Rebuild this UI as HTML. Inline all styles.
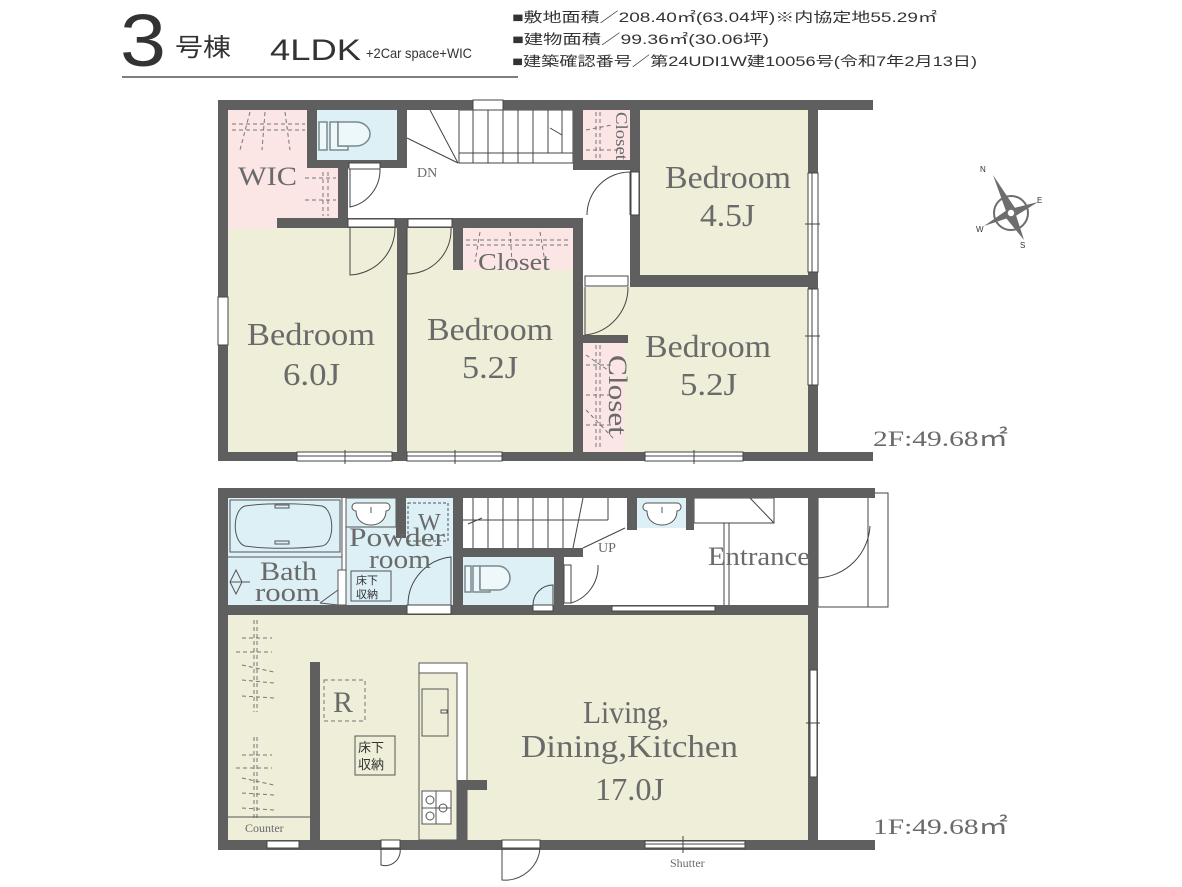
<!DOCTYPE html>
<html><head><meta charset="utf-8"><style>
html,body{margin:0;padding:0;background:#fff;}
svg{display:block;}
.s{font-family:"Liberation Serif",serif;fill:#6a6a6a;}
.j{font-family:"Liberation Sans","Noto Sans CJK JP",sans-serif;fill:#333;}
</style></head><body>
<svg width="1182" height="887" viewBox="0 0 1182 887" xmlns="http://www.w3.org/2000/svg">
<!-- Header -->
<text x="120" y="66" class="j" font-size="74" fill="#333" textLength="46" lengthAdjust="spacingAndGlyphs">3</text>
<text x="175" y="56" class="j" font-size="25" textLength="56" lengthAdjust="spacingAndGlyphs">号棟</text>
<text x="270" y="60" class="j" font-size="30" textLength="91" lengthAdjust="spacingAndGlyphs">4LDK</text>
<text x="366" y="58" class="j" font-size="14" textLength="106" lengthAdjust="spacingAndGlyphs">+2Car space+WIC</text>
<line x1="122" y1="77" x2="518" y2="77" stroke="#555" stroke-width="1.5"/>
<text x="512" y="22" class="j" font-size="13.5" textLength="425" lengthAdjust="spacingAndGlyphs">■敷地面積／208.40㎡(63.04坪)※内協定地55.29㎡</text>
<text x="512" y="44" class="j" font-size="13.5" textLength="257" lengthAdjust="spacingAndGlyphs">■建物面積／99.36㎡(30.06坪)</text>
<text x="512" y="66" class="j" font-size="13.5" textLength="465" lengthAdjust="spacingAndGlyphs">■建築確認番号／第24UDI1W建10056号(令和7年2月13日)</text>

<!-- ===== 2F ===== -->
<rect x="228" y="228" width="169" height="224" fill="#efeed8"/>
<rect x="407" y="228" width="166" height="224" fill="#efeed8"/>
<rect x="583" y="287" width="225" height="165" fill="#efeed8"/>
<rect x="640" y="110" width="168" height="165" fill="#efeed8"/>
<rect x="583" y="287" width="47" height="48" fill="#efeed8"/>
<rect x="228" y="110" width="79" height="118" fill="#fbe5e5"/>
<rect x="307" y="168" width="31" height="50" fill="#fbe5e5"/>
<rect x="463" y="228" width="110" height="42" fill="#fbe5e5"/>
<rect x="583" y="110" width="50" height="50" fill="#fbe5e5"/>
<rect x="583" y="343" width="42" height="109" fill="#fbe5e5"/>
<rect x="317" y="110" width="80" height="50" fill="#dcf0f6"/>
<g stroke="#777" stroke-width="1" stroke-dasharray="4,3" fill="none">
<line x1="232" y1="124" x2="305" y2="124"/><line x1="232" y1="130" x2="305" y2="130"/>
<line x1="250" y1="112" x2="240" y2="150"/><line x1="265" y1="112" x2="262" y2="150"/><line x1="285" y1="112" x2="290" y2="150"/>
<line x1="305" y1="178" x2="336" y2="178"/><line x1="305" y1="200" x2="336" y2="200"/><line x1="323" y1="172" x2="323" y2="216"/><line x1="328" y1="172" x2="328" y2="216"/>
<line x1="466" y1="240" x2="570" y2="240"/><line x1="466" y1="245" x2="570" y2="245"/>
<line x1="480" y1="232" x2="475" y2="262"/><line x1="510" y1="232" x2="512" y2="262"/><line x1="540" y1="232" x2="545" y2="262"/>
<line x1="596" y1="112" x2="596" y2="158"/><line x1="600" y1="112" x2="600" y2="158"/><line x1="586" y1="130" x2="612" y2="125"/><line x1="586" y1="150" x2="620" y2="150"/>
<line x1="596" y1="345" x2="596" y2="450"/><line x1="600" y1="345" x2="600" y2="450"/>
<line x1="586" y1="365" x2="612" y2="365"/><line x1="586" y1="395" x2="612" y2="395"/><line x1="586" y1="425" x2="612" y2="425"/><line x1="586" y1="355" x2="615" y2="375"/><line x1="586" y1="410" x2="615" y2="440"/>
</g>
<g stroke="#444" stroke-width="1" fill="none">
<rect x="459" y="110" width="114" height="43"/>
<rect x="459" y="153" width="114" height="10" fill="#fff"/>
<line x1="473" y1="110" x2="473" y2="163"/><line x1="488" y1="110" x2="488" y2="163"/><line x1="503" y1="110" x2="503" y2="163"/><line x1="518" y1="110" x2="518" y2="163"/><line x1="533" y1="110" x2="533" y2="163"/><line x1="548" y1="110" x2="548" y2="153"/><line x1="562" y1="110" x2="562" y2="153"/>
<line x1="407" y1="138" x2="458" y2="163"/><line x1="430" y1="110" x2="458" y2="163"/>
<line x1="550" y1="128" x2="562" y2="135"/>
</g>
<text x="417" y="177" class="s" font-size="14" fill="#333">DN</text>
<g stroke="#7a8a90" stroke-width="1.5" fill="#eef7fa">
<rect x="319" y="122" width="8" height="28"/>
<path d="M330 122 h8 v24 h10 v4 h-18 z"/>
<path d="M338 122 h18 a14 12 0 0 1 0 24 h-18 z"/>
</g>
<g fill="#5f5f5f">
<rect x="218" y="100" width="655" height="10"/>
<rect x="218" y="100" width="10" height="361"/>
<rect x="218" y="452" width="655" height="9"/>
<rect x="808" y="100" width="10" height="352"/>
<rect x="307" y="110" width="10" height="58"/>
<rect x="307" y="160" width="100" height="8"/>
<rect x="397" y="110" width="10" height="58"/>
<rect x="338" y="168" width="10" height="60"/>
<rect x="277" y="218" width="306" height="10"/>
<rect x="397" y="218" width="10" height="234"/>
<rect x="453" y="228" width="10" height="42"/>
<rect x="573" y="110" width="10" height="58"/>
<rect x="573" y="160" width="67" height="10"/>
<rect x="573" y="218" width="10" height="234"/>
<rect x="630" y="110" width="10" height="177"/>
<rect x="630" y="275" width="188" height="12"/>
<rect x="583" y="335" width="45" height="8"/>
</g>
<g fill="#fff" stroke="#444" stroke-width="1">
<rect x="348" y="219" width="47" height="8"/>
<rect x="408" y="219" width="44" height="8"/>
<rect x="631" y="172" width="8" height="43"/>
<rect x="585" y="276" width="43" height="10"/>
<rect x="473" y="100" width="30" height="10"/>
<rect x="218" y="297" width="10" height="48"/>
<rect x="297" y="452" width="95" height="9"/>
<rect x="407" y="452" width="95" height="9"/>
<rect x="645" y="452" width="98" height="9"/>
<rect x="808" y="173" width="10" height="99"/>
<rect x="808" y="289" width="10" height="96"/>
</g>
<rect x="349" y="163" width="31" height="6" fill="#fff" stroke="#444"/>
<g stroke="#444" stroke-width="1" fill="none">
<path d="M350 169 v38 a38 38 0 0 0 30 -38"/>
<path d="M350 228 v47 a47 47 0 0 0 45 -47"/>
<path d="M407 228 v46 a44 44 0 0 0 44 -46"/>
<path d="M630 215 v-43 a43 43 0 0 0 -43 43"/>
<path d="M585 287 v48 a48 48 0 0 0 43 -48"/>
<line x1="812" y1="173" x2="812" y2="272"/><line x1="812" y1="289" x2="812" y2="385"/>
<line x1="297" y1="456" x2="392" y2="456"/><line x1="407" y1="456" x2="502" y2="456"/><line x1="645" y1="456" x2="743" y2="456"/>
<line x1="345" y1="450" x2="345" y2="464"/><line x1="455" y1="450" x2="455" y2="464"/><line x1="694" y1="450" x2="694" y2="464"/>
<line x1="805" y1="224" x2="820" y2="224"/><line x1="805" y1="336" x2="820" y2="336"/>
</g>
<text x="238" y="185" class="s" font-size="26" textLength="59" lengthAdjust="spacingAndGlyphs">WIC</text>
<text x="665" y="188" class="s" font-size="32" textLength="126" lengthAdjust="spacingAndGlyphs">Bedroom</text>
<text x="700" y="226" class="s" font-size="32" textLength="55" lengthAdjust="spacingAndGlyphs">4.5J</text>
<text x="247" y="345" class="s" font-size="32" textLength="128" lengthAdjust="spacingAndGlyphs">Bedroom</text>
<text x="283" y="385" class="s" font-size="32" textLength="57" lengthAdjust="spacingAndGlyphs">6.0J</text>
<text x="427" y="340" class="s" font-size="32" textLength="126" lengthAdjust="spacingAndGlyphs">Bedroom</text>
<text x="462" y="378" class="s" font-size="32" textLength="56" lengthAdjust="spacingAndGlyphs">5.2J</text>
<text x="478" y="270" class="s" font-size="24" textLength="72" lengthAdjust="spacingAndGlyphs">Closet</text>
<text x="645" y="357" class="s" font-size="32" textLength="126" lengthAdjust="spacingAndGlyphs">Bedroom</text>
<text x="680" y="395" class="s" font-size="32" textLength="57" lengthAdjust="spacingAndGlyphs">5.2J</text>
<text transform="translate(616,112) rotate(90)" class="s" font-size="17" textLength="48" lengthAdjust="spacingAndGlyphs">Closet</text>
<text transform="translate(609,355) rotate(90)" class="s" font-size="26" textLength="80" lengthAdjust="spacingAndGlyphs">Closet</text>
<text x="873" y="446" class="s" font-size="22" fill="#333" textLength="135" lengthAdjust="spacingAndGlyphs">2F:49.68㎡</text>

<g fill="#6d6d6d" stroke="#6d6d6d">
<circle cx="1011" cy="213" r="17" fill="none" stroke-width="2"/>
<polygon points="993,175 1015,208 1007,214" stroke="none"/>
<polygon points="1024,240 1006,218 1015,212" stroke="none"/>
<polygon points="1038,202 1014,217 1010,209" stroke="none"/>
<polygon points="984,226 1007,210 1011,217" stroke="none"/>
<circle cx="1011" cy="213" r="4" fill="#fff" stroke-width="1.5"/>
</g>
<g class="j" font-size="8" fill="#888">
<text x="980" y="172">N</text><text x="1037" y="203">E</text><text x="976" y="232">W</text><text x="1020" y="248">S</text>
</g>

<!-- ===== 1F ===== -->
<rect x="228" y="615" width="580" height="225" fill="#efeed8"/>
<rect x="228" y="498" width="114" height="107" fill="#dcf0f6"/>
<rect x="346" y="498" width="107" height="107" fill="#dcf0f6"/>
<rect x="463" y="557" width="91" height="48" fill="#dcf0f6"/>
<rect x="637" y="498" width="49" height="30" fill="#dcf0f6"/>
<g stroke="#555" stroke-width="1" fill="none">
<rect x="230" y="500" width="110" height="52"/>
<path d="M245 506 C265 503 300 503 322 506 C335 510 335 544 322 546 C300 549 265 549 245 546 C232 542 232 510 245 506 Z"/>
<rect x="275" y="505" width="14" height="3"/><rect x="275" y="541" width="14" height="3"/>
<line x1="228" y1="557" x2="342" y2="557"/>
<path d="M236 570 l6 12 l-6 12 l-6 -12 z"/><line x1="230" y1="582" x2="250" y2="582"/>
<line x1="320" y1="603" x2="338" y2="590"/><line x1="320" y1="603" x2="338" y2="605"/>
<line x1="342" y1="498" x2="342" y2="605"/><line x1="346" y1="498" x2="346" y2="605"/>
</g>
<rect x="338" y="570" width="8" height="35" fill="#fff" stroke="#555"/>
<g stroke="#555" stroke-width="1" fill="#fff">
<rect x="346" y="498" width="50" height="29" fill="#dcf0f6"/>
<path d="M356 503 h30 a4 4 0 0 1 0 8 c0 10 -8 14 -15 14 c-7 0 -15 -4 -15 -14 a4 4 0 0 1 0 -8z"/>
<path d="M647 503 h30 a4 4 0 0 1 0 8 c0 10 -8 14 -15 14 c-7 0 -15 -4 -15 -14 a4 4 0 0 1 0 -8z"/>
<line x1="371" y1="507" x2="371" y2="513"/><line x1="662" y1="507" x2="662" y2="513"/>
</g>
<rect x="408" y="503" width="40" height="38" fill="none" stroke="#555" stroke-dasharray="3,2"/>
<text x="418" y="530" class="s" font-size="24">W</text>
<rect x="351" y="571" width="40" height="30" fill="#dcf0f6" stroke="#555"/>
<text x="356" y="584" class="j" font-size="11" fill="#444">床下</text>
<text x="356" y="598" class="j" font-size="11" fill="#444">収納</text>
<g stroke="#7a8a90" stroke-width="1.5" fill="#eef7fa">
<rect x="465" y="566" width="6" height="26"/>
<path d="M473 566 h7 v22 h10 v4 h-17 z"/>
<path d="M480 566 h18 a12 12 0 0 1 0 24 h-18 z"/>
</g>
<g stroke="#444" stroke-width="1" fill="none">
<line x1="473" y1="498" x2="473" y2="548"/><line x1="488" y1="498" x2="488" y2="548"/><line x1="503" y1="498" x2="503" y2="548"/><line x1="518" y1="498" x2="518" y2="548"/><line x1="533" y1="498" x2="533" y2="548"/><line x1="548" y1="498" x2="548" y2="548"/><line x1="563" y1="498" x2="563" y2="548"/>
<line x1="463" y1="520" x2="608" y2="520"/><line x1="608" y1="498" x2="608" y2="520"/>
<line x1="583" y1="498" x2="573" y2="548"/><line x1="583" y1="548" x2="625" y2="528"/>
<line x1="468" y1="524" x2="482" y2="518"/>
<rect x="694" y="498" width="80" height="25"/>
<line x1="750" y1="498" x2="774" y2="523"/>
<line x1="724" y1="523" x2="724" y2="605"/><line x1="729" y1="523" x2="729" y2="605"/>
<rect x="818" y="493" width="70" height="114"/>
<line x1="868" y1="498" x2="868" y2="607"/>
<path d="M818 578 a55 55 0 0 0 52 -52"/><rect x="810" y="523" width="8" height="55" fill="#fff"/>
</g>
<text x="598" y="552" class="s" font-size="14" fill="#333">UP</text>
<g stroke="#777" stroke-width="1" stroke-dasharray="4,3" fill="none">
<line x1="254" y1="620" x2="254" y2="712"/><line x1="257" y1="620" x2="257" y2="712"/>
<line x1="242" y1="638" x2="272" y2="638"/><line x1="236" y1="652" x2="272" y2="652"/><line x1="242" y1="665" x2="274" y2="672"/><line x1="242" y1="680" x2="274" y2="683"/><line x1="242" y1="696" x2="274" y2="698"/>
<line x1="254" y1="737" x2="254" y2="820"/><line x1="257" y1="737" x2="257" y2="820"/>
<line x1="242" y1="755" x2="272" y2="755"/><line x1="236" y1="768" x2="272" y2="768"/><line x1="242" y1="778" x2="274" y2="785"/><line x1="242" y1="793" x2="274" y2="795"/><line x1="242" y1="808" x2="274" y2="810"/>
<rect x="324" y="680" width="41" height="41"/>
</g>
<line x1="228" y1="817" x2="310" y2="817" stroke="#555"/>
<text x="245" y="832" class="s" font-size="12" fill="#444">Counter</text>
<text x="333" y="712" class="s" font-size="30">R</text>
<rect x="355" y="736" width="40" height="39" fill="none" stroke="#555"/>
<text x="358" y="752" class="j" font-size="13" fill="#555">床下</text>
<text x="358" y="769" class="j" font-size="13" fill="#555">収納</text>
<g stroke="#555" stroke-width="1">
<rect x="419" y="663" width="48" height="177" fill="#fff"/>
<rect x="419" y="673" width="38" height="167" fill="#efeed8"/>
<rect x="422" y="689" width="26" height="47" fill="#efeed8"/>
<rect x="441" y="710" width="6" height="3" fill="#efeed8"/>
<rect x="422" y="791" width="29" height="33" fill="#fff"/>
</g>
<g stroke="#555" fill="none"><circle cx="430" cy="800" r="4"/><circle cx="443" cy="808" r="4"/><circle cx="430" cy="816" r="4"/><line x1="422" y1="808" x2="451" y2="808"/><line x1="436" y1="791" x2="436" y2="824"/></g>
<g fill="#5f5f5f">
<rect x="218" y="488" width="657" height="10"/>
<rect x="218" y="488" width="10" height="362"/>
<rect x="218" y="840" width="657" height="10"/>
<rect x="808" y="498" width="10" height="342"/>
<rect x="228" y="605" width="580" height="10"/>
<rect x="396" y="498" width="10" height="40"/>
<rect x="453" y="498" width="10" height="117"/>
<rect x="463" y="548" width="120" height="9"/>
<rect x="554" y="557" width="10" height="48"/>
<rect x="627" y="498" width="10" height="32"/>
<rect x="686" y="498" width="8" height="32"/>
<rect x="310" y="662" width="10" height="178"/>
<rect x="457" y="780" width="10" height="60"/>
<rect x="467" y="780" width="20" height="10"/>
</g>
<g fill="#fff" stroke="#444" stroke-width="1">
<rect x="407" y="605" width="44" height="9"/>
<rect x="533" y="605" width="20" height="6"/>
<rect x="564" y="565" width="7" height="38"/>
<rect x="612" y="606" width="103" height="5"/>
<rect x="267" y="841" width="32" height="7"/>
<rect x="381" y="840" width="19" height="8"/>
<rect x="502" y="840" width="38" height="8"/>
<rect x="645" y="841" width="100" height="7"/>
<rect x="810" y="670" width="7" height="107"/>
</g>
<g stroke="#444" stroke-width="1" fill="none">
<path d="M451 605 v-48 a48 48 0 0 0 -43 48"/>
<path d="M553 605 v-20 a20 20 0 0 0 -20 20"/>
<path d="M571 565 v38 a38 38 0 0 0 27 -38"/>
<path d="M381 848 v17 a15 15 0 0 0 19 -17"/>
<path d="M502 848 v32 a35 35 0 0 0 38 -32"/>
<line x1="683" y1="836" x2="683" y2="853"/><line x1="645" y1="844" x2="745" y2="844"/>
<line x1="806" y1="723" x2="820" y2="723"/>
</g>
<text x="670" y="867" class="s" font-size="12" fill="#444">Shutter</text>
<text x="260" y="580" class="s" font-size="26" textLength="57" lengthAdjust="spacingAndGlyphs">Bath</text>
<text x="255" y="601" class="s" font-size="26" textLength="65" lengthAdjust="spacingAndGlyphs">room</text>
<text x="349" y="546" class="s" font-size="26" textLength="96" lengthAdjust="spacingAndGlyphs">Powder</text>
<text x="369" y="568" class="s" font-size="26" textLength="62" lengthAdjust="spacingAndGlyphs">room</text>
<text x="708" y="565" class="s" font-size="26" textLength="102" lengthAdjust="spacingAndGlyphs">Entrance</text>
<text x="583" y="723" class="s" font-size="32" textLength="86" lengthAdjust="spacingAndGlyphs">Living,</text>
<text x="521" y="757" class="s" font-size="32" textLength="217" lengthAdjust="spacingAndGlyphs">Dining,Kitchen</text>
<text x="595" y="800" class="s" font-size="32" textLength="69" lengthAdjust="spacingAndGlyphs">17.0J</text>
<text x="873" y="834" class="s" font-size="22" fill="#333" textLength="135" lengthAdjust="spacingAndGlyphs">1F:49.68㎡</text>
</svg>
</body></html>
